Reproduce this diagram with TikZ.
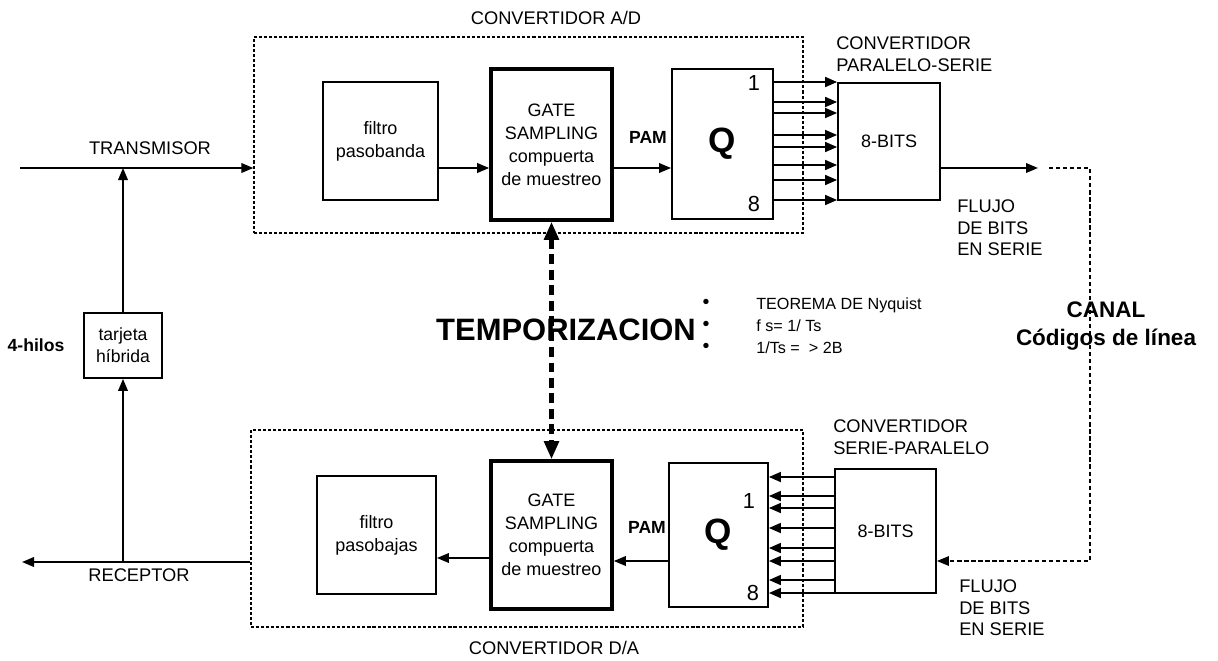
\documentclass[tikz,border=0pt]{standalone}
\usepackage{fontspec}
\setmainfont{Liberation Sans}
\usetikzlibrary{arrows.meta,calc,positioning}

\begin{document}
\begin{tikzpicture}[
  x=0.025cm,y=-0.025cm,
  wh/.style 2 args={minimum width=#1*0.025cm,minimum height=#2*0.025cm},
  blk/.style={draw,line width=1.3pt,inner sep=0pt,align=center,
              font=\fontsize{12.8}{16.4}\selectfont},
  gatebox/.style={blk,line width=2.6pt},
  qbox/.style={blk,font=\fontsize{25}{28}\bfseries},
  frame/.style={draw,line width=0.9pt,dash pattern=on 2.2pt off 1.4pt,inner sep=0pt},
  arr/.style={-{Triangle[length=3mm,width=2.4mm]},line width=1.2pt},
  bitarr/.style={-{Triangle[length=3mm,width=2.5mm]},line width=1.2pt},
  chan/.style={line width=0.9pt,dash pattern=on 3pt off 2pt},
  timing/.style={{Triangle[length=4.5mm,width=3.6mm]}-{Triangle[length=4.5mm,width=3.6mm]},
                 line width=3pt,dash pattern=on 7pt off 4pt},
  lbl/.style={inner sep=0pt,align=left,font=\fontsize{13}{15.6}\selectfont},
  num/.style={inner sep=0pt,font=\fontsize{15.5}{18}\selectfont},
  bold/.style={inner sep=0pt,font=\fontsize{12.5}{15}\bfseries}
]
  \useasboundingbox (0,0) rectangle (1218,660);

  \node[frame,wh={549}{196}] (adbox) at (528.5,135) {};
  \node[frame,wh={552}{197}] (dabox) at (527,528.5) {};
  \node[lbl] (adlbl) at (556,18) {CONVERTIDOR A/D};
  \node[lbl] (dalbl) at (554,648) {CONVERTIDOR D/A};

  \node[blk,wh={115}{118}] (filtroA) at (380.5,141) {filtro\\pasobanda};
  \node[gatebox,wh={121}{151}] (gateA) at (551.5,144.5) {GATE\\SAMPLING\\compuerta\\de muestreo};
  \node[qbox,wh={101}{150}] (qA) at (722.5,144) {Q};
  \node[blk,wh={102}{117}] (bitsA) at (889,141.5) {8-BITS};
  \node[num] (qAone) at ([xshift=-5mm,yshift=-3.8mm]qA.north east) {1};
  \node[num] (qAeight) at ([xshift=-5mm,yshift=4mm]qA.south east) {8};

  \node[blk,wh={119}{118}] (filtroB) at (376.5,535) {filtro\\pasobajas};
  \node[gatebox,wh={121}{148}] (gateB) at (551.5,535) {GATE\\SAMPLING\\compuerta\\de muestreo};
  \node[qbox,wh={99}{144}] (qB) at (718.5,535) {Q};
  \node[blk,wh={101}{124}] (bitsB) at (885.5,531) {8-BITS};
  \node[num] (qBone) at ([xshift=-5mm,yshift=-9.8mm]qB.north east) {1};
  \node[num] (qBeight) at ([xshift=-4mm,yshift=3.8mm]qB.south east) {8};

  \node[blk,wh={78}{65},font=\fontsize{12.5}{15.6}\selectfont] (hyb) at (123,345.5) {tarjeta\\híbrida};
  \node[bold] (hilos) at (36,345) {4-hilos};

  \coordinate (txin) at (20,168);
  \coordinate (sig) at (0,168);
  \coordinate (txout) at (1038,168);
  \coordinate (rxout) at (22,562);
  \coordinate (sigB) at (0,558);
  \coordinate (pamB) at (0,561);
  \coordinate (ch1) at (1049,168);
  \coordinate (ch2) at (1090,168);
  \coordinate (ch3) at (1090,561);

  \draw[arr] (txin) -- (txin -| adbox.west);
  \node[lbl] (tx) at (150,148) {TRANSMISOR};
  \draw[arr] (filtroA.east |- sig) -- (gateA.west |- sig);
  \draw[arr] (gateA.east |- sig) -- (qA.west |- sig);
  \node[bold] (pamA) at (648,137) {PAM};
  \foreach \yy in {82,102,113,135,147,165,180,200} {
    \coordinate (t) at (0,\yy);
    \draw[bitarr] (qA.east |- t) -- (bitsA.west |- t);
  }
  \draw[arr] (bitsA.east |- txout) -- (txout);
  \node[lbl,anchor=west] (ps) at (836,54) {CONVERTIDOR\\PARALELO-SERIE};
  \node[lbl,anchor=west,font=\fontsize{13}{15.3}\selectfont] (flujoA) at (957,228) {FLUJO\\DE BITS\\EN SERIE};

  \draw[chan,-{Triangle[length=3mm,width=2.4mm]}] (ch1) -- (ch2) -- (ch3) -- (bitsB.east |- ch3);
  \node[inner sep=0pt,align=center,font=\fontsize{16}{20}\bfseries] (canal) at (1106,326) {CANAL\\Códigos de línea};

  \foreach \yy in {477,496,508,528,548,561,580,593} {
    \coordinate (t) at (0,\yy);
    \draw[bitarr] (bitsB.west |- t) -- (qB.east |- t);
  }
  \node[lbl,anchor=west] (sp) at (833,437.5) {CONVERTIDOR\\SERIE-PARALELO};
  \node[lbl,anchor=west,font=\fontsize{13}{15.3}\selectfont] (flujoB) at (959,608) {FLUJO\\DE BITS\\EN SERIE};
  \draw[arr] (qB.west |- pamB) -- (gateB.east |- pamB);
  \node[bold] (pamBl) at (647,527) {PAM};
  \draw[arr] (gateB.west |- sigB) -- (filtroB.east |- sigB);
  \draw[arr] (dabox.west |- rxout) -- (rxout);
  \node[lbl] (rx) at (139,575) {RECEPTOR};

  \draw[arr] (hyb.north) -- (hyb.north |- txin);
  \draw[arr] (hyb.south |- rxout) -- (hyb.south);

  \draw[timing] (gateA.south) -- (gateB.north);
  \node[inner sep=0pt,font=\fontsize{22}{26}\bfseries] (temp) at (566,330) {TEMPORIZACION};
  \node[inner sep=0pt,align=center,font=\fontsize{14}{15.6}\selectfont] (bul) at (706,325.5) {\textbullet\\\textbullet\\\textbullet};
  \node[lbl,anchor=west,font=\fontsize{11.5}{15.6}\selectfont] (teo) at (756,325.5) {TEOREMA DE Nyquist\\f s= 1/ Ts\\1/Ts =\ \ > 2B};
\end{tikzpicture}
\end{document}
